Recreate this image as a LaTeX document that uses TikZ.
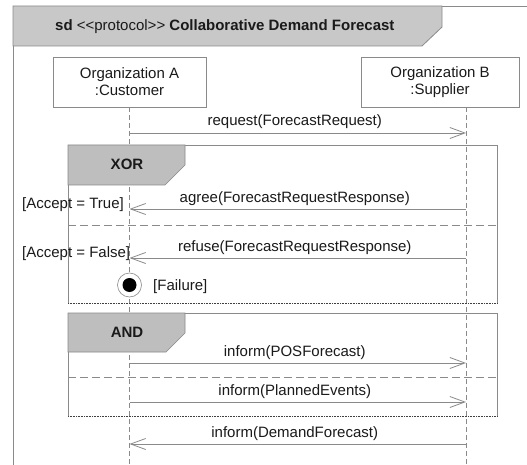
\documentclass[tikz,border=0pt]{standalone}
\usepackage{fontspec}
\setmainfont{Liberation Sans}
\usetikzlibrary{arrows.meta}
\definecolor{ln}{HTML}{8A8A8A}
\definecolor{hdr}{HTML}{C8C8C8}
\definecolor{tabfill}{HTML}{BEBEBE}
\definecolor{txt}{HTML}{1A1A1A}
\definecolor{dk}{HTML}{404040}
\begin{document}
\begin{tikzpicture}[x=1pt,y=-1pt,
  gline/.style={draw=ln, line width=0.8pt},
  lifeline/.style={draw=ln, line width=0.7pt, dash pattern=on 5pt off 3pt},
  sepline/.style={draw=ln, line width=0.8pt, dash pattern=on 8pt off 4pt},
  botline/.style={draw=dk, line width=0.6pt, densely dotted},
  msg/.style={draw=ln, line width=0.8pt, -{Straight Barb[length=15pt,width=11pt,line width=0.8pt]}},
  lbl/.style={font=\fontsize{15}{17}\selectfont, text=txt, inner sep=0pt},
  msglbl/.style={lbl, anchor=base, yshift=7pt, xshift=-3pt},
  objbox/.style={draw=ln, line width=0.8pt, fill=white, font=\fontsize{15}{17}\selectfont, text=txt, align=center, minimum height=50pt, inner sep=0pt},
  tabshape/.style={fill=tabfill, draw=ln, line width=0.6pt},
  tablbl/.style={lbl, font=\fontsize{15}{17}\selectfont\bfseries}
]
\useasboundingbox (0,0) rectangle (527,465);
\fill[white] (0,0) rectangle (527,465);
\begin{scope}
\clip (0,0) rectangle (527,465);
% outer frame
\draw[gline] (13,470) -- (13,6) -- (540,6);
% header
\filldraw[fill=hdr, draw=ln, line width=0.8pt] (13,6) -- (442,6) -- (442,27) -- (422,46) -- (13,46) -- cycle;
\node[lbl, anchor=base west] (title) at (55,31) {\textbf{sd} <{}<protocol>{}> \textbf{Collaborative Demand Forecast}};

% objects
\node[objbox, minimum width=153pt] (orgA) at (129.5,82) {Organization A\\:Customer};
\node[objbox, minimum width=158pt] (orgB) at (440,82) {Organization B\\:Supplier};

% lifelines
\coordinate (lAb) at (129.5,470);
\coordinate (lBt) at (466,107);
\coordinate (lBb) at (466,470);
\draw[lifeline] (orgA.south) -- (lAb);
\draw[lifeline] (lBt) -- (lBb);

% request
\coordinate (rqA) at (129.5,133);
\coordinate (rqB) at (466,133);
\draw[msg] (rqA) -- node[msglbl] (rqL) {request(ForecastRequest)} (rqB);

% XOR fragment
\draw[gline] (68,303) -- (68,145) -- (497,145) -- (497,303);
\draw[botline] (68,303) -- (497,303);
\filldraw[tabshape] (68,145) -- (185,145) -- (185,165) -- (165,185) -- (68,185) -- cycle;
\node[tablbl] (xor) at (127,164) {XOR};

% agree
\coordinate (agA) at (129.5,209);
\coordinate (agB) at (466,209);
\draw[msg] (agB) -- node[msglbl] (agL) {agree(ForecastRequestResponse)} (agA);
\node[lbl, anchor=base west] (gT) at (22,208) {[Accept = True]};

% separator
\draw[sepline] (68,225) -- (497,225);

% refuse
\coordinate (rfA) at (129.5,258);
\coordinate (rfB) at (466,258);
\draw[msg] (rfB) -- node[msglbl] (rfL) {refuse(ForecastRequestResponse)} (rfA);
\node[lbl, anchor=base west] (gF) at (22,257) {[Accept = False]};

% final state
\node[circle, draw=ln, line width=0.6pt, fill=white, minimum size=24pt, inner sep=0pt] (fin) at (129.5,285) {};
\node[circle, fill=black, minimum size=14pt, inner sep=0pt] (finin) at (fin.center) {};
\node[lbl, anchor=base west] (fail) at (153,290) {[Failure]};

% AND fragment
\draw[gline] (68,416) -- (68,313) -- (497,313) -- (497,416);
\draw[botline] (68,416) -- (497,416);
\filldraw[tabshape] (68,313) -- (185,313) -- (185,333) -- (166,352) -- (68,352) -- cycle;
\node[tablbl] (and) at (127,332) {AND};

% inform POS
\coordinate (p1A) at (129.5,363);
\coordinate (p1B) at (466,363);
\draw[msg] (p1A) -- node[msglbl] (p1L) {inform(POSForecast)} (p1B);

\draw[sepline] (68,377) -- (497,377);

% inform planned
\coordinate (p2A) at (129.5,402);
\coordinate (p2B) at (466,402);
\draw[msg] (p2A) -- node[msglbl] (p2L) {inform(PlannedEvents)} (p2B);

% inform demand
\coordinate (p3A) at (129.5,444);
\coordinate (p3B) at (466,444);
\draw[msg] (p3B) -- node[msglbl] (p3L) {inform(DemandForecast)} (p3A);
\end{scope}
\end{tikzpicture}
\end{document}
